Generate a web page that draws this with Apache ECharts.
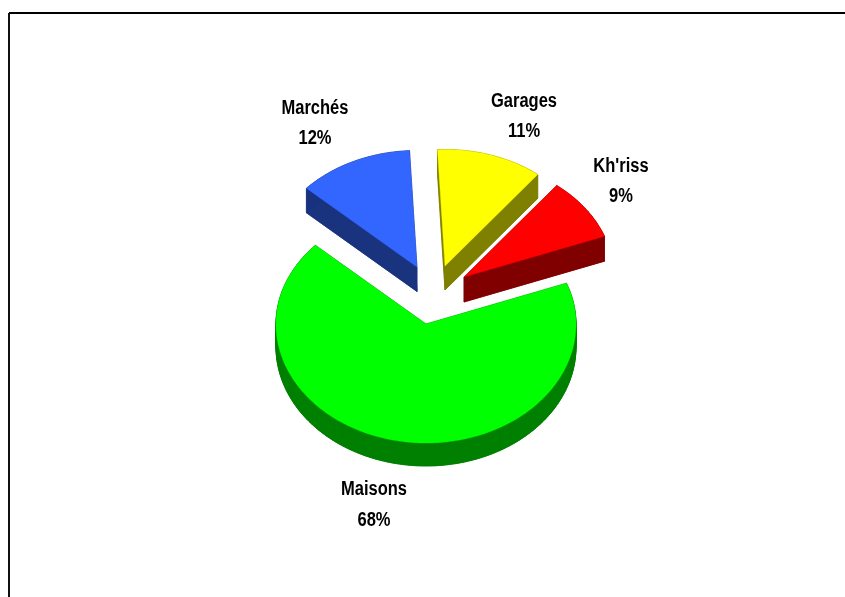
<!DOCTYPE html>
<html>
<head>
<meta charset="utf-8">
<style>html,body{margin:0;padding:0;background:#fff}#c{width:845px;height:597px}</style>
<script src="https://cdn.jsdelivr.net/npm/echarts@6/dist/echarts.min.js"></script>
</head>
<body>
<div id="c"></div>
<script>
var categories = ["Maisons", "Marchés", "Garages", "Kh'riss"];
var shares = [67.5, 12.4, 11.4, 8.7];
var topColors = ['#00ff00', '#3366ff', '#ffff00', '#ff0000'];
var wallColors = ['#008000', '#19337f', '#808000', '#800000'];
var explode = [[0, 0], [-9, -57], [19, -58], [38, -47]];
var labelAt = [[374, 505], [315, 123.5], [524, 116.5], [621, 181.5]];
var wallDepth = [23, 24.5, 24, 25];
var centre = [426, 324], radiusX = 150, radiusBack = 116.5, radiusFront = 119;
var marchesStart = 137.5; // angle (degrees, counter-clockwise from east) where Marchés begins

var total = shares.reduce(function (a, b) { return a + b; }, 0);

// Start angle of each slice, going clockwise, with Marchés first and Maisons closing the circle.
function sliceAngles(i) {
  var order = [1, 2, 3, 0], a = marchesStart;
  for (var k = 0; k < order.length; k++) {
    var sweep = shares[order[k]] / total * 360;
    if (order[k] === i) return [a, a - sweep];
    a -= sweep;
  }
}
function outline(i) {
  var ang = sliceAngles(i), ox = centre[0] + explode[i][0], oy = centre[1] + explode[i][1];
  var arc = [], n = Math.ceil(Math.abs(ang[0] - ang[1]));
  for (var k = 0; k <= n; k++) {
    var t = (ang[0] + (ang[1] - ang[0]) * k / n) * Math.PI / 180, s = Math.sin(t);
    arc.push([ox + radiusX * Math.cos(t), oy - (s > 0 ? radiusBack : radiusFront) * s]);
  }
  return { tip: [ox, oy], arc: arc };
}

function renderSlice(params, api) {
  var i = params.dataIndex, o = outline(i), kids = [];
  var shifted = function (p) { return [p[0], p[1] + wallDepth[i]]; };
  var top = [o.tip].concat(o.arc);
  var wall = { fill: wallColors[i], stroke: wallColors[i], lineWidth: 0.6 };
  kids.push({ type: 'polygon', shape: { points: top.map(shifted) }, style: wall });
  for (var k = 0; k < top.length; k++) {
    var a = top[k], b = top[(k + 1) % top.length];
    kids.push({ type: 'polygon', shape: { points: [a, b, shifted(b), shifted(a)] }, style: wall });
  }
  kids.push({ type: 'polygon', shape: { points: top },
    style: { fill: topColors[i], stroke: topColors[i], lineWidth: 0.4 } });
  kids.push({ type: 'text', x: labelAt[i][0], y: labelAt[i][1], scaleX: 0.825,
    style: {
      text: categories[i] + '\n' + Math.round(api.value(0)) + '%',
      x: 0, y: 0, align: 'center', verticalAlign: 'middle',
      font: 'bold 20px "Liberation Sans", Arial, sans-serif',
      lineHeight: 30.5, fill: '#000'
    } });
  return { type: 'group', children: kids };
}

var chart = echarts.init(document.getElementById('c'), null, { renderer: 'canvas' });
chart.setOption({
  animation: false,
  backgroundColor: '#ffffff',
  graphic: [
    { type: 'line', shape: { x1: 9, y1: 13, x2: 845, y2: 13 }, style: { stroke: '#000', lineWidth: 2 } },
    { type: 'line', shape: { x1: 9, y1: 13, x2: 9, y2: 597 }, style: { stroke: '#111', lineWidth: 2 } }
  ],
  series: [{
    type: 'custom',
    coordinateSystem: 'none',
    renderItem: renderSlice,
    data: shares.map(function (v, i) { return { name: categories[i], value: [v] }; })
  }]
});
</script>
</body>
</html>
